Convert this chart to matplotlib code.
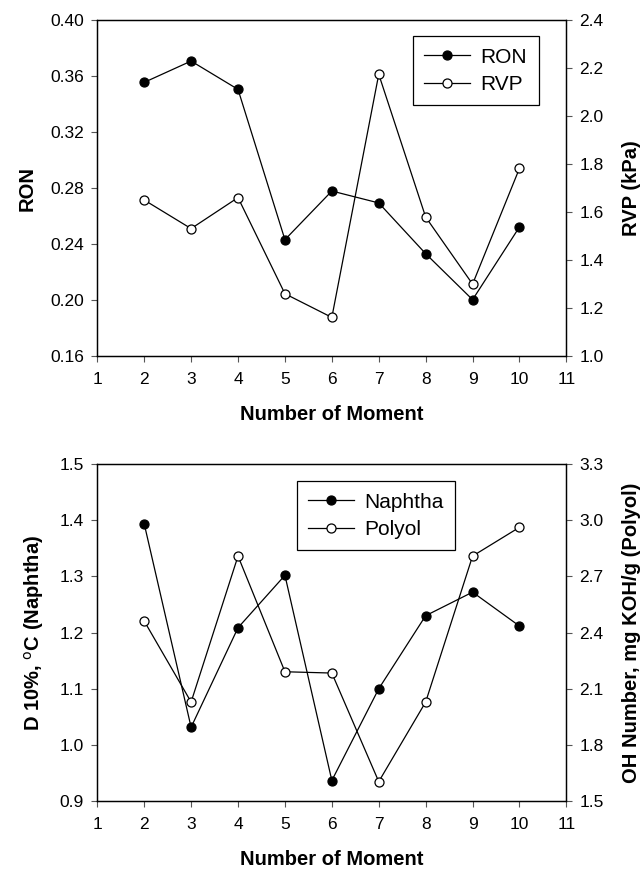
import matplotlib.pyplot as plt
from matplotlib.ticker import MultipleLocator

plt.rcParams['font.family'] = ['Liberation Sans', 'DejaVu Sans']

moment = [2, 3, 4, 5, 6, 7, 8, 9, 10]
ron = [0.3555, 0.3707, 0.3505, 0.2433, 0.278, 0.2695, 0.2333, 0.2005, 0.2524]
rvp = [1.651, 1.532, 1.661, 1.261, 1.1625, 2.174, 1.580, 1.301, 1.783]
naphtha = [1.394, 1.031, 1.2085, 1.302, 0.936, 1.0997, 1.230, 1.272, 1.2115]
polyol = [2.4615, 2.028, 2.809, 2.190, 2.183, 1.602, 2.028, 2.809, 2.963]

fig = plt.figure(figsize=(6.4, 8.69), dpi=100)
ax1 = fig.add_axes([0.152, 0.5898, 0.733, 0.3872])
ax2 = fig.add_axes([0.152, 0.0786, 0.733, 0.3871])

line_kw = dict(color='black', linewidth=0.9, markersize=6.5, markeredgewidth=0.9)
lab_kw = dict(fontsize=14.5, fontweight='bold')
leg_kw = dict(borderaxespad=0, fontsize=15, fancybox=False, framealpha=1, edgecolor='black',
              handlelength=2.2, handletextpad=0.5, borderpad=0.55, labelspacing=0.4)


def style(ax, twin):
    for a in (ax, twin):
        a.tick_params(direction='out', length=4.5, width=0.8, color='#555555', labelsize=12.5, pad=5)
        for s in a.spines.values():
            s.set_linewidth(0.9)
    ax.tick_params(axis='x', pad=7)
    ax.set_xlim(1, 11)
    ax.xaxis.set_major_locator(MultipleLocator(1))
    ax.set_xlabel('Number of Moment', labelpad=13, **lab_kw)


# top panel
t1 = ax1.twinx()
h1, = ax1.plot(moment, ron, marker='o', markerfacecolor='black', markeredgecolor='black', label='RON', **line_kw)
h2, = t1.plot(moment, rvp, marker='o', markerfacecolor='white', markeredgecolor='black', label='RVP', **line_kw)
ax1.set_ylim(0.16, 0.40)
ax1.set_yticks([0.16, 0.20, 0.24, 0.28, 0.32, 0.36, 0.40])
ax1.set_yticklabels(['0.16', '0.20', '0.24', '0.28', '0.32', '0.36', '0.40'])
t1.set_ylim(1.0, 2.4)
t1.set_yticks([1.0, 1.2, 1.4, 1.6, 1.8, 2.0, 2.2, 2.4])
t1.set_yticklabels(['1.0', '1.2', '1.4', '1.6', '1.8', '2.0', '2.2', '2.4'])
ax1.set_ylabel('RON', labelpad=10, **lab_kw)
t1.set_ylabel('RVP (kPa)', labelpad=13, **lab_kw)
style(ax1, t1)
leg = t1.legend(handles=[h1, h2], loc='upper right', bbox_to_anchor=(0.941, 0.952), **leg_kw)
leg.get_frame().set_linewidth(0.9)

# bottom panel
t2 = ax2.twinx()
h3, = ax2.plot(moment, naphtha, marker='o', markerfacecolor='black', markeredgecolor='black', label='Naphtha', **line_kw)
h4, = t2.plot(moment, polyol, marker='o', markerfacecolor='white', markeredgecolor='black', label='Polyol', **line_kw)
ax2.set_ylim(0.9, 1.5)
ax2.set_yticks([0.9, 1.0, 1.1, 1.2, 1.3, 1.4, 1.5])
ax2.set_yticklabels(['0.9', '1.0', '1.1', '1.2', '1.3', '1.4', '1.5'])
t2.set_ylim(1.5, 3.3)
t2.set_yticks([1.5, 1.8, 2.1, 2.4, 2.7, 3.0, 3.3])
t2.set_yticklabels(['1.5', '1.8', '2.1', '2.4', '2.7', '3.0', '3.3'])
ax2.set_ylabel('D 10%, $^{\\rm o}$C (Naphtha)', labelpad=10, **lab_kw)
t2.set_ylabel('OH Number, mg KOH/g (Polyol)', labelpad=13, **lab_kw)
style(ax2, t2)
leg2 = t2.legend(handles=[h3, h4], loc='upper left', bbox_to_anchor=(0.425, 0.950), **leg_kw)
leg2.get_frame().set_linewidth(0.9)

fig.savefig('out.png', dpi=100)
